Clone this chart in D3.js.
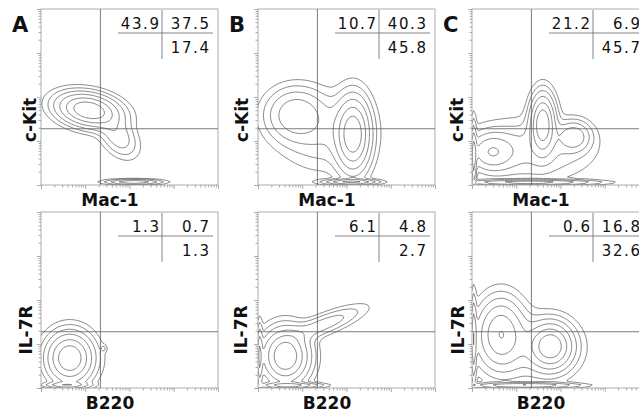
<!DOCTYPE html>
<html lang="en">
<head>
<meta charset="UTF-8">
<title>Flow cytometry contours</title>
<script src="https://d3js.org/d3.v7.min.js"></script>
<style>
  body { margin: 0; background: #fff; }
  svg text { font-family: "DejaVu Sans", sans-serif; fill: #111; }
</style>
</head>
<body>
<div id="chart"></div>
<script>
// ---- data ----
const panelLetters = ["A", "B", "C"];
const yLabels = ["c-Kit", "IL-7R"];
const xLabels = ["Mac-1", "B220"];

// quadrant gate position (fluorescence, log axis 10^0..10^4)
const gateX = 22;
const gateY = 19;

// quadrant percentages: upper-left, upper-right, lower-right
const quadA1 = ["43.9", "37.5", "17.4"];
const quadB1 = ["10.7", "40.3", "45.8"];
const quadC1 = ["21.2", "6.9", "45.7"];
const quadA2 = ["1.3", "0.7", "1.3"];
const quadB2 = ["6.1", "4.8", "2.7"];
const quadC2 = ["0.6", "16.8", "32.6"];

// population clusters in decades: centre x,y, spread sx,sy, correlation r, weight w
const blobsA1 = [
  { x: 1.08, y: 1.7, sx: 0.4, sy: 0.22, r: -0.25, w: 1 },
  { x: 1.75, y: 1.1, sx: 0.25, sy: 0.27, r: -0.4, w: 0.22 },
  { x: 2.1, y: 0.07, sx: 0.36, sy: 0.035, r: 0, w: 0.4 }
];
const blobsB1 = [
  { x: 0.85, y: 1.6, sx: 0.38, sy: 0.34, r: 0, w: 0.42 },
  { x: 2.15, y: 1.15, sx: 0.22, sy: 0.48, r: 0, w: 1 },
  { x: 1.5, y: 1.2, sx: 0.6, sy: 0.5, r: 0, w: 0.15 },
  { x: 2.1, y: 0.07, sx: 0.35, sy: 0.035, r: 0, w: 0.5 }
];
const blobsC1 = [
  { x: 1.6, y: 1.4, sx: 0.16, sy: 0.38, r: 0, w: 1 },
  { x: 0.45, y: 0.75, sx: 0.3, sy: 0.25, r: 0, w: 0.4 },
  { x: 2.3, y: 1.1, sx: 0.22, sy: 0.2, r: 0, w: 0.4 },
  { x: 1.3, y: 0.8, sx: 0.8, sy: 0.4, r: 0, w: 0.18 },
  { x: 1.3, y: 0.06, sx: 0.8, sy: 0.035, r: 0, w: 0.6 },
  { x: 0.04, y: 0.6, sx: 0.035, sy: 0.45, r: 0, w: 0.5 }
];
const blobsA2 = [
  { x: 0.65, y: 0.68, sx: 0.3, sy: 0.33, r: 0, w: 1 },
  { x: 0.55, y: 0.07, sx: 0.3, sy: 0.035, r: 0, w: 0.3 },
  { x: 1.42, y: 0.9, sx: 0.04, sy: 0.05, r: 0, w: 0.07 }
];
const blobsB2 = [
  { x: 0.62, y: 0.72, sx: 0.3, sy: 0.35, r: 0, w: 1 },
  { x: 1.5, y: 1.45, sx: 0.52, sy: 0.24, r: 0.8, w: 0.2 },
  { x: 0.7, y: 0.06, sx: 0.4, sy: 0.035, r: 0, w: 0.5 },
  { x: 0.04, y: 0.7, sx: 0.035, sy: 0.4, r: 0, w: 0.4 }
];
const blobsC2 = [
  { x: 0.65, y: 1.25, sx: 0.3, sy: 0.45, r: 0, w: 0.7 },
  { x: 1.78, y: 0.95, sx: 0.28, sy: 0.3, r: 0, w: 1 },
  { x: 1.2, y: 0.9, sx: 0.7, sy: 0.45, r: 0, w: 0.15 },
  { x: 1.2, y: 0.06, sx: 0.65, sy: 0.035, r: 0, w: 0.5 },
  { x: 0.04, y: 1.1, sx: 0.035, sy: 0.55, r: 0, w: 0.4 }
];

// contour levels, fraction of each panel's peak density
const contourLevels = [0.03, 0.07, 0.14, 0.26, 0.45, 0.7];

// ---- layout ----
const W = 639, H = 413;
const colLeft = [41, 258, 472];
const rowTop = [9, 212];
const pw = 177, ph = 176;
const yLabelOff = [[5.5, 10, 9], [9, 11, 8]];
const yLabelMid = [111, 118];

const panels = [
  [[blobsA1, quadA1], [blobsB1, quadB1], [blobsC1, quadC1]],
  [[blobsA2, quadA2], [blobsB2, quadB2], [blobsC2, quadC2]]
];

const svg = d3.select("#chart").append("svg")
  .attr("width", W).attr("height", H)
  .style("display", "block");
svg.append("rect").attr("width", W).attr("height", H).attr("fill", "#fff");

const n = 110;

function density(blobs, dx, dy) {
  let s = 0;
  for (const b of blobs) {
    const u = (dx - b.x) / b.sx, v = (dy - b.y) / b.sy;
    const q = (u * u - 2 * b.r * u * v + v * v) / (1 - b.r * b.r);
    s += b.w * Math.exp(-0.5 * q);
  }
  return s;
}

function drawPanel(ri, ci) {
  const [blobs, quad] = panels[ri][ci];
  const left = colLeft[ci], top = rowTop[ri];
  const x = d3.scaleLog().domain([1, 1e4]).range([left, left + pw]);
  const y = d3.scaleLog().domain([1, 1e4]).range([top + ph, top]);
  const g = svg.append("g");

  const clipId = `clip${ri}${ci}`;
  g.append("clipPath").attr("id", clipId)
    .append("rect").attr("x", left).attr("y", top).attr("width", pw).attr("height", ph);

  // density grid -> contours
  const values = new Float64Array(n * n);
  for (let j = 0; j < n; j++) {
    for (let i = 0; i < n; i++) {
      values[i + j * n] = density(blobs, i / (n - 1) * 4, 4 - j / (n - 1) * 4);
    }
  }
  const max = d3.max(values);
  const contours = d3.contours().size([n, n])
    .thresholds(contourLevels.map(l => l * max))(values);
  const proj = d3.geoTransform({
    point(px, py) {
      const dx = (px - 0.5) / (n - 1) * 4, dy = 4 - (py - 0.5) / (n - 1) * 4;
      this.stream.point(x(Math.pow(10, dx)), y(Math.pow(10, dy)));
    }
  });
  g.append("g").attr("clip-path", `url(#${clipId})`)
    .selectAll("path").data(contours).join("path")
    .attr("d", d3.geoPath(proj))
    .attr("fill", "none")
    .attr("stroke", "#555")
    .attr("stroke-width", 0.7)
    .attr("stroke-linejoin", "round");

  // frame
  g.append("rect").attr("x", left).attr("y", top).attr("width", pw).attr("height", ph)
    .attr("fill", "none").attr("stroke", "#9a9a9a").attr("stroke-width", 0.8);

  // log ticks
  const minor = [], major = [];
  for (let k = 0; k < 4; k++) {
    major.push(Math.pow(10, k));
    for (let m = 2; m <= 9; m++) minor.push(m * Math.pow(10, k));
  }
  major.push(1e4);
  const tickStyle = sel => {
    sel.select(".domain").remove();
    sel.selectAll("line").attr("stroke", "#8a8a8a").attr("stroke-width", 0.7);
  };
  g.append("g").attr("transform", `translate(${left},0)`)
    .call(d3.axisLeft(y).tickValues(minor).tickSize(2.5).tickFormat("")).call(tickStyle);
  g.append("g").attr("transform", `translate(${left},0)`)
    .call(d3.axisLeft(y).tickValues(major).tickSize(4).tickFormat("")).call(tickStyle);
  g.append("g").attr("transform", `translate(0,${top + ph})`)
    .call(d3.axisBottom(x).tickValues(minor).tickSize(2.5).tickFormat("")).call(tickStyle);
  g.append("g").attr("transform", `translate(0,${top + ph})`)
    .call(d3.axisBottom(x).tickValues(major).tickSize(4).tickFormat("")).call(tickStyle);

  // quadrant gates
  g.append("line").attr("x1", x(gateX)).attr("x2", x(gateX))
    .attr("y1", top).attr("y2", top + ph)
    .attr("stroke", "#5a5a5a").attr("stroke-width", 0.8);
  g.append("line").attr("x1", left).attr("x2", left + pw)
    .attr("y1", y(gateY)).attr("y2", y(gateY))
    .attr("stroke", "#5a5a5a").attr("stroke-width", 0.8);

  // percentage table
  const dv = left + 121;
  const tbl = g.append("g");
  tbl.append("line").attr("x1", dv).attr("x2", dv).attr("y1", top + 1).attr("y2", top + 50)
    .attr("stroke", "#777").attr("stroke-width", 0.9);
  tbl.append("line").attr("x1", dv - 44).attr("x2", dv + 51).attr("y1", top + 24).attr("y2", top + 24)
    .attr("stroke", "#777").attr("stroke-width", 0.9);
  const ls = 1.6;
  const num = (txt, xx, yy) => tbl.append("text")
    .attr("x", xx + ls).attr("y", yy)
    .attr("text-anchor", "end")
    .attr("font-size", 15)
    .attr("letter-spacing", ls)
    .text(txt);
  num(quad[0], dv - 3, top + 20);
  num(quad[1], dv + 47, top + 20);
  num(quad[2], dv + 47, top + 44);

  // labels
  if (ri === 0) {
    g.append("text").attr("x", left - 29).attr("y", top + 23)
      .attr("font-size", 21).attr("font-weight", "bold").text(panelLetters[ci]);
  }
  g.append("text").attr("x", left + 69).attr("y", top + 197)
    .attr("text-anchor", "middle").attr("font-size", 17).attr("font-weight", "bold")
    .text(xLabels[ri]);
  g.append("text")
    .attr("transform", `translate(${left - yLabelOff[ri][ci]},${top + yLabelMid[ri]}) rotate(-90)`)
    .attr("text-anchor", "middle").attr("font-size", 17).attr("font-weight", "bold")
    .text(yLabels[ri]);
}

for (let ri = 0; ri < 2; ri++) {
  for (let ci = 0; ci < 3; ci++) drawPanel(ri, ci);
}
</script>
</body>
</html>
